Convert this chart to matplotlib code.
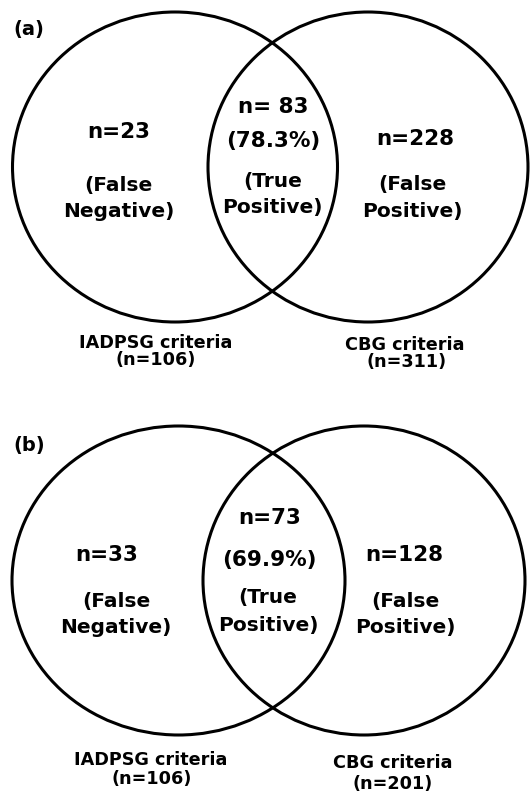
import matplotlib
matplotlib.use("Agg")
import matplotlib.pyplot as plt
from matplotlib.patches import Ellipse

# ---- data ----
panel_labels = ["(a)", "(b)"]
false_negative = [23, 33]
true_positive = [83, 73]
true_positive_pct = ["78.3%", "69.9%"]
false_positive = [228, 128]
iadpsg_total = [106, 106]
cbg_total = [311, 201]
tp_formats = ["n= {}", "n={}"]

# ---- layout (pixel coordinates) ----
fig = plt.figure(figsize=(5.32, 7.96), dpi=100)
ax = fig.add_axes([0, 0, 1, 1])
ax.set_xlim(0, 532)
ax.set_ylim(796, 0)
ax.axis("off")

lw = 2.2
font = "DejaVu Sans"

# per panel geometry: left ellipse, right ellipse
geo = [
    dict(l=(175, 167, 325, 310), r=(368, 167, 320, 310)),
    dict(l=(178.5, 580.5, 333, 309), r=(364, 580.5, 322, 309)),
]

# text positions (x, baseline y) per panel
pos = [
    dict(panel=(13, 29), fn=(118.5, 137.5), fn1=(118, 191.5), fn2=(118.5, 217),
         tp=(273, 113), tpp=(273.5, 147), tp1=(273, 187), tp2=(272, 213),
         fp=(415.5, 145), fp1=(412.5, 190), fp2=(412.5, 217),
         ia=(156, 348), ian=(156, 365), cb=(405, 350), cbn=(406.5, 367)),
    dict(panel=(13, 446), fn=(106.5, 561), fn1=(116, 606.5), fn2=(116, 633),
         tp=(269.5, 524), tpp=(269, 566), tp1=(268, 603), tp2=(268, 631),
         fp=(404.5, 561), fp1=(405.5, 606.5), fp2=(405.5, 633),
         ia=(151, 765), ian=(151.5, 784), cb=(392.5, 768.5), cbn=(392.5, 789)),
]

s_num = 15.5
s_desc = 14.5
s_lab = 12.7

def put(xy, s, size):
    ax.text(xy[0], xy[1], s, ha="center", va="baseline", fontsize=size,
            fontweight="bold", family=font, color="black")

for i in range(2):
    g = geo[i]
    for key in ("l", "r"):
        cx, cy, w, h = g[key]
        ax.add_patch(Ellipse((cx, cy), w, h, fill=False, edgecolor="black", lw=lw))
    p = pos[i]
    ax.text(p["panel"][0], p["panel"][1], panel_labels[i], ha="left", va="center",
            fontsize=14, fontweight="bold", family=font)
    put(p["fn"], f"n={false_negative[i]}", s_num)
    put(p["fn1"], "(False", s_desc)
    put(p["fn2"], "Negative)", s_desc)
    put(p["tp"], tp_formats[i].format(true_positive[i]), s_num)
    put(p["tpp"], f"({true_positive_pct[i]})", s_num)
    put(p["tp1"], "(True", s_desc)
    put(p["tp2"], "Positive)", s_desc)
    put(p["fp"], f"n={false_positive[i]}", s_num)
    put(p["fp1"], "(False", s_desc)
    put(p["fp2"], "Positive)", s_desc)
    put(p["ia"], "IADPSG criteria", s_lab)
    put(p["ian"], f"(n={iadpsg_total[i]})", s_lab)
    put(p["cb"], "CBG criteria", s_lab)
    put(p["cbn"], f"(n={cbg_total[i]})", s_lab)

fig.savefig("out.png", dpi=100)
